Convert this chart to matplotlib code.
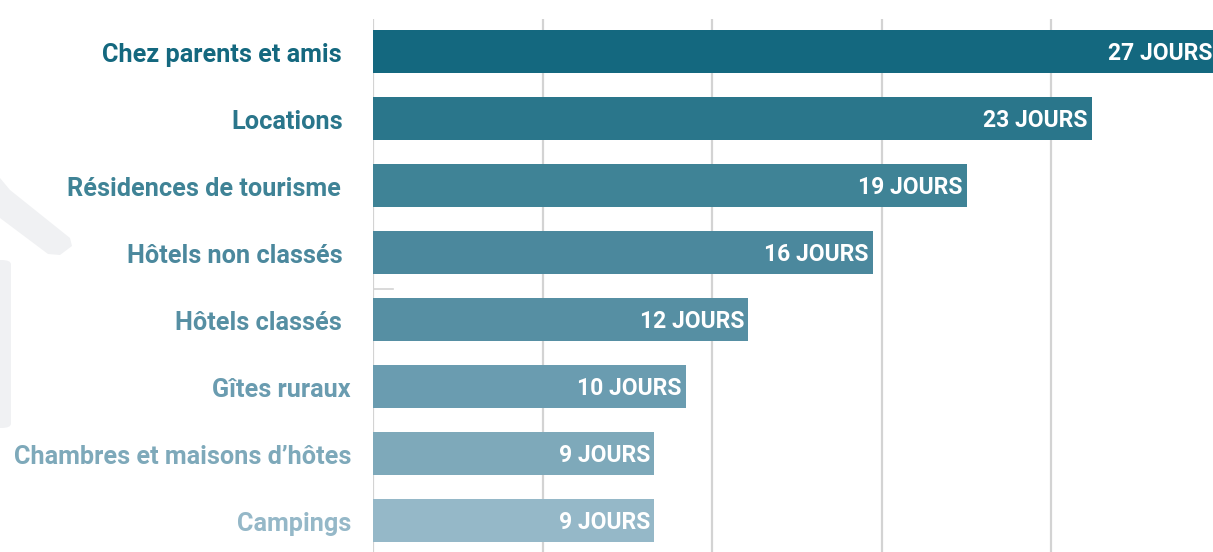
import matplotlib
matplotlib.use("Agg")
import matplotlib.pyplot as plt
from matplotlib.patches import Polygon, FancyBboxPatch
import matplotlib.transforms as mtransforms

categories = ["Chez parents et amis", "Locations", "Résidences de tourisme",
              "Hôtels non classés", "Hôtels classés", "Gîtes ruraux",
              "Chambres et maisons d’hôtes", "Campings"]
values = [27, 23, 19, 16, 12, 10, 9, 9]
value_labels = ["27 JOURS", "23 JOURS", "19 JOURS", "16 JOURS", "12 JOURS",
                "10 JOURS", "9 JOURS", "9 JOURS"]
colors = ["#14687F", "#2A768B", "#3F8396", "#4B889D", "#568FA3",
          "#6A9CB0", "#7EA9BA", "#95B8C8"]
label_pad_px = [31, 30, 32, 30, 31, 22, 22, 22]

W, H = 1213, 552
fig = plt.figure(figsize=(W / 100, H / 100), dpi=100)
fig.patch.set_facecolor("white")

# watermark (house shape)
wm = "#F0F1F3"
fig.patches.append(Polygon([(0 / W, 1 - 178 / H), (10 / W, 1 - 190 / H), (70 / W, 1 - 238 / H),
                            (72 / W, 1 - 246 / H), (60 / W, 1 - 255 / H), (48 / W, 1 - 254 / H),
                            (0 / W, 1 - 218 / H)],
                           closed=True, transform=fig.transFigure, facecolor=wm,
                           edgecolor="none", zorder=0))
fig.patches.append(FancyBboxPatch((-10 / W, 1 - 428 / H), 21 / W, 168 / H,
                                  boxstyle="round,pad=0,rounding_size=0.008",
                                  transform=fig.transFigure, facecolor=wm,
                                  edgecolor="none", zorder=0))

left = 373 / W
top = 19 / H
ax = fig.add_axes([left, 0, 1 - left, 1 - top])
px_per_day = 31.25
xmax = (W - 373) / px_per_day
ax.set_xlim(0, xmax)
spacing = 67.0
c0 = 51.5
ax.set_ylim((H - c0) / spacing, -(c0 - 19) / spacing)

grid_step = 169.5 / px_per_day
k = 0
while k * grid_step < xmax:
    ax.axvline(k * grid_step, color="#D3D3D3", lw=1.6, zorder=0)
    k += 1

y = list(range(len(categories)))
ax.barh(y, values, height=43 / spacing, color=colors, zorder=2)

font = "Roboto"
for i, (cat, v, lab) in enumerate(zip(categories, values, value_labels)):
    off = mtransforms.offset_copy(ax.transData, fig=fig, x=-label_pad_px[i] * 0.72,
                                  y=-3 * 0.72, units="points")
    ax.text(0, i, cat, transform=off, ha="right", va="center", fontsize=18.2,
            fontweight="bold", color=colors[i], family=font, clip_on=False)
    off2 = mtransforms.offset_copy(ax.transData, fig=fig, x=-4 * 0.72, y=-2 * 0.72,
                                   units="points")
    ax.text(v, i, lab, transform=off2, ha="right", va="center", fontsize=16.5,
            fontweight="bold", color="white", family=font, zorder=3)

# small stray tick
ax.plot([0, 20 / px_per_day], [3.55, 3.55], color="#D3D3D3", lw=1.2, zorder=1)

ax.set_xticks([])
ax.set_yticks([])
for s in ax.spines.values():
    s.set_visible(False)
ax.patch.set_alpha(0)

fig.savefig("out.png", dpi=100, facecolor="white")
